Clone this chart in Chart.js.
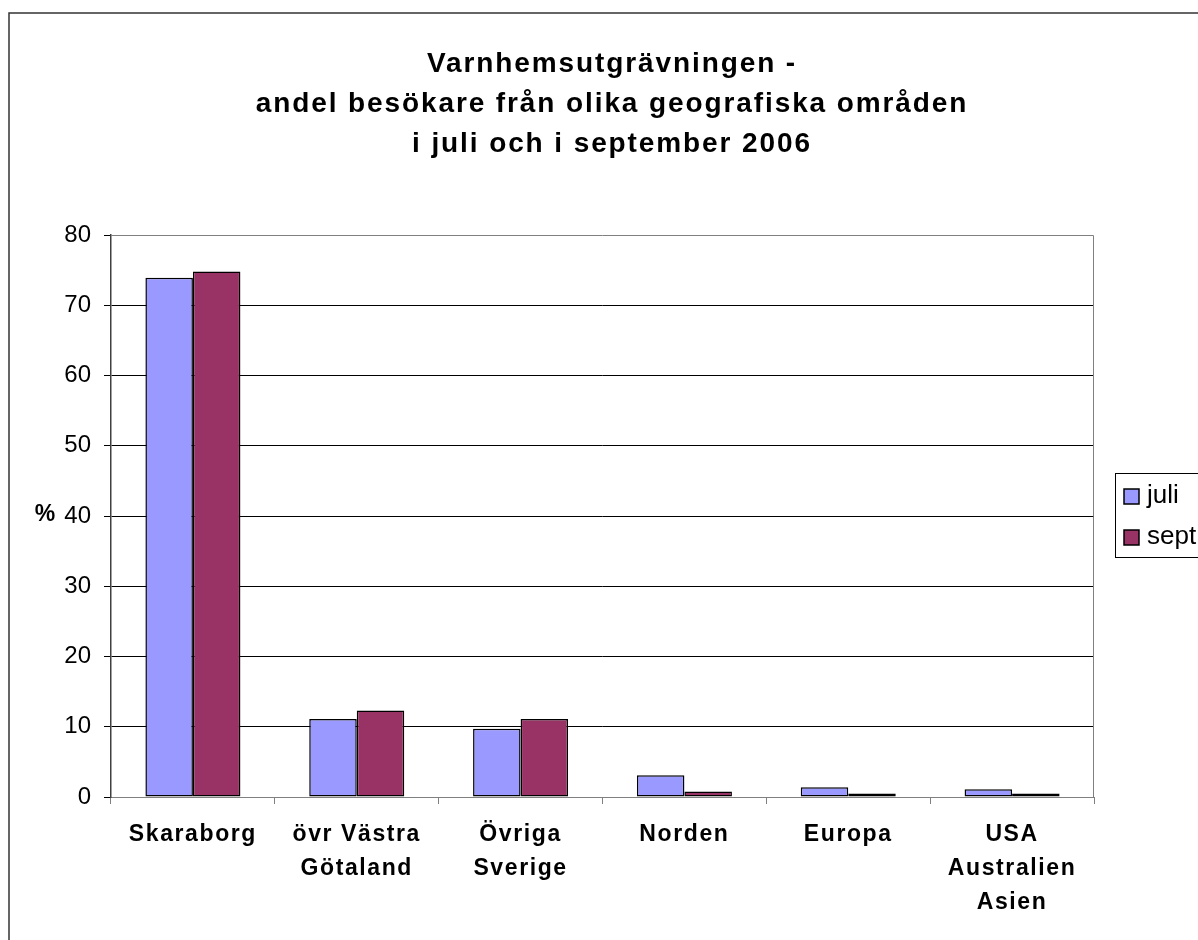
<!DOCTYPE html>
<html>
<head>
<meta charset="utf-8">
<script src="https://cdn.jsdelivr.net/npm/chart.js@4"></script>
<style>
  html, body { margin: 0; padding: 0; background: #fff; }
  #wrap { width: 1198px; height: 940px; }
</style>
</head>
<body>
<div id="wrap"><canvas id="Besokare" width="1198" height="940"></canvas></div>
<script>
// data
var kategorier = [
  ["Skaraborg"],
  ["övr Västra", "Götaland"],
  ["Övriga", "Sverige"],
  ["Norden"],
  ["Europa"],
  ["USA", "Australien", "Asien"]
];
var juli = [73.9, 11.1, 9.7, 3.1, 1.4, 1.1];
var sept = [74.8, 12.3, 11.1, 0.8, 0.5, 0.5];
var yTicks = [0, 10, 20, 30, 40, 50, 60, 70, 80];
var titel = [
  "Varnhemsutgrävningen -",
  "andel besökare från olika geografiska områden",
  "i juli och i september 2006"
];
var serier = ["juli", "sept"];
var farger = ["#9999FF", "#993366"];

var FONT = "'Liberation Sans', Arial, sans-serif";

// title, legend, "%" and outer frame drawn by hand
var extras = {
  id: "extras",
  afterUpdate: function (chart) {
    // the excel category labels are a bit spread out
    var sx = chart.scales.x;
    if (sx && !sx._spaced) {
      var orig = sx.drawLabels;
      sx.drawLabels = function (area) {
        var ctx = this.ctx;
        ctx.save();
        ctx.letterSpacing = "1.6px";
        orig.call(this, area);
        ctx.restore();
      };
      sx._spaced = true;
    }
  },
  afterDraw: function (chart) {
    var ctx = chart.ctx;
    var area = chart.chartArea;
    ctx.save();

    // outer frame
    ctx.strokeStyle = "#333";
    ctx.lineWidth = 1.5;
    ctx.beginPath();
    ctx.moveTo(9, 960);
    ctx.lineTo(9, 13);
    ctx.lineTo(1220, 13);
    ctx.stroke();

    // plot frame top + right
    ctx.strokeStyle = "#808080";
    ctx.lineWidth = 1;
    ctx.beginPath();
    ctx.moveTo(area.left, area.top + 0.5);
    ctx.lineTo(area.right - 0.5, area.top + 0.5);
    ctx.lineTo(area.right - 0.5, area.bottom);
    ctx.stroke();

    // title
    ctx.fillStyle = "#000";
    ctx.font = "bold 28px " + FONT;
    ctx.letterSpacing = "1.9px";
    ctx.textAlign = "center";
    ctx.textBaseline = "alphabetic";
    for (var i = 0; i < titel.length; i++) {
      ctx.fillText(titel[i], 612, 72 + i * 40);
    }

    // "%" label
    ctx.letterSpacing = "0px";
    ctx.textBaseline = "middle";
    ctx.font = "bold 23px " + FONT;
    ctx.fillText("%", 45, 515);

    // legend
    ctx.strokeStyle = "#000";
    ctx.lineWidth = 1;
    ctx.strokeRect(1115.5, 473.5, 100, 84);
    ctx.font = "26px " + FONT;
    ctx.textAlign = "left";
    for (var j = 0; j < serier.length; j++) {
      var y = 496 + j * 41;
      ctx.fillStyle = farger[j];
      ctx.fillRect(1124, y - 7, 15, 15);
      ctx.lineWidth = 1.5;
      ctx.strokeRect(1124, y - 7, 15, 15);
      ctx.fillStyle = "#000";
      ctx.fillText(serier[j], 1147, y);
    }
    ctx.restore();
  }
};

new Chart(document.getElementById("Besokare"), {
  type: "bar",
  data: {
    labels: kategorier,
    datasets: [
      {
        label: serier[0],
        data: juli,
        backgroundColor: farger[0],
        borderColor: "#000",
        borderWidth: 1.5,
        borderSkipped: false,
        barPercentage: 1,
        categoryPercentage: 0.58
      },
      {
        label: serier[1],
        data: sept,
        backgroundColor: farger[1],
        borderColor: "#000",
        borderWidth: 1.5,
        borderSkipped: false,
        barPercentage: 1,
        categoryPercentage: 0.58
      }
    ]
  },
  options: {
    responsive: false,
    animation: false,
    layout: { padding: { top: 235, right: 104, left: 0, bottom: 0 } },
    plugins: {
      legend: { display: false },
      title: { display: false },
      tooltip: { enabled: false }
    },
    scales: {
      x: {
        grid: {
          offset: true,
          drawOnChartArea: false,
          drawTicks: true,
          tickLength: 7,
          color: "#808080"
        },
        border: { color: "#808080", width: 1 },
        ticks: {
          color: "#000",
          font: { family: FONT, size: 23, weight: "bold", lineHeight: 1.48 },
          padding: 14,
          maxRotation: 0,
          autoSkip: false
        },
        afterFit: function (axis) { axis.height = 143; }
      },
      y: {
        min: 0,
        max: 80,
        afterBuildTicks: function (axis) {
          axis.ticks = yTicks.map(function (v) { return { value: v }; });
        },
        grid: {
          color: function (c) {
            return c.tick && (c.tick.value === 0 || c.tick.value === 80) ? "rgba(0,0,0,0)" : "#000";
          },
          drawTicks: true,
          tickLength: 7,
          tickColor: "#000"
        },
        border: { color: "#404040", width: 1.5 },
        ticks: {
          color: "#000",
          font: { family: FONT, size: 24 },
          padding: 13
        },
        afterFit: function (axis) { axis.width = 111; }
      }
    }
  },
  plugins: [extras]
});
</script>
</body>
</html>
